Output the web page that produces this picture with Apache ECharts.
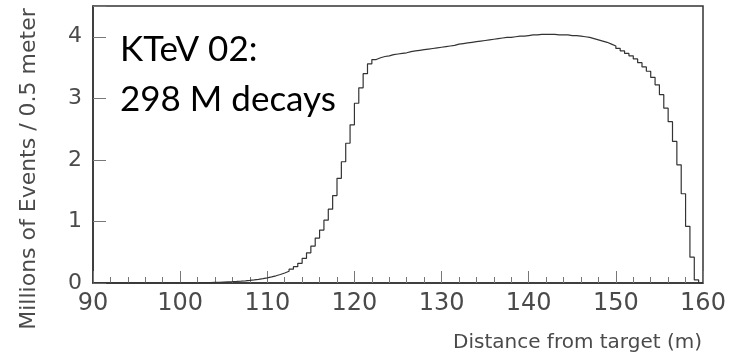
<!DOCTYPE html>
<html>
<head>
<meta charset="utf-8">
<script src="https://cdn.jsdelivr.net/npm/echarts@6/dist/echarts.min.js"></script>
<style>
  html, body { margin: 0; padding: 0; background: #fff; }
  #chart { width: 744px; height: 357px; }
</style>
</head>
<body>
<div id="chart"></div>
<script>
// Decay-vertex distribution, 0.5 m bins from 90 m to 160 m
const binStart = 90;
const binWidth = 0.5;
const xTicks = [90, 100, 110, 120, 130, 140, 150, 160];
const yTicks = [0, 1, 2, 3, 4];

// Millions of events per 0.5 m bin
const eventsPerBin = [
  0, 0, 0, 0, 0, 0, 0, 0, 0, 0, 0, 0,                 // 90.0 - 95.5
  0, 0, 0, 0, 0, 0, 0, 0, 0, 0, 0, 0,                 // 96.0 - 101.5
  0.004, 0.006, 0.008, 0.010, 0.012, 0.015, 0.018, 0.021, // 102.0 - 105.5
  0.025, 0.030, 0.036, 0.043, 0.051, 0.060, 0.071, 0.084, // 106.0 - 109.5
  0.099, 0.117, 0.138, 0.162, 0.19, 0.225, 0.265, 0.32,   // 110.0 - 113.5
  0.40, 0.49, 0.60, 0.73, 0.86, 1.02, 1.20, 1.42,         // 114.0 - 117.5
  1.70, 1.97, 2.27, 2.57, 2.92, 3.17, 3.40, 3.56,         // 118.0 - 121.5
  3.63, 3.66, 3.68, 3.69, 3.71, 3.72, 3.73, 3.74,         // 122.0 - 125.5
  3.76, 3.77, 3.78, 3.79, 3.80, 3.81, 3.82, 3.83,         // 126.0 - 129.5
  3.84, 3.85, 3.86, 3.88, 3.89, 3.90, 3.91, 3.92,         // 130.0 - 133.5
  3.93, 3.94, 3.95, 3.96, 3.97, 3.98, 3.99, 3.99,         // 134.0 - 137.5
  4.00, 4.01, 4.01, 4.02, 4.03, 4.03, 4.04, 4.04,         // 138.0 - 141.5
  4.04, 4.04, 4.03, 4.03, 4.03, 4.02, 4.02, 4.01,         // 142.0 - 145.5
  4.00, 3.99, 3.97, 3.95, 3.93, 3.91, 3.88, 3.85,         // 146.0 - 149.5
  3.81, 3.77, 3.73, 3.69, 3.64, 3.58, 3.51, 3.44,         // 150.0 - 153.5
  3.34, 3.22, 3.06, 2.84, 2.62, 2.30, 1.92, 1.45,         // 154.0 - 157.5
  0.92, 0.42, 0.05, 0                                     // 158.0 - 159.5
];

const annotation = ['KTeV 02:', '298 M decays'];
const xTitle = 'Distance from target (m)';
const yTitle = 'Millions of Events / 0.5 meter';

// Histogram outline: each bin drawn from its lower edge, closed at the upper edge
const stepData = eventsPerBin.map((v, i) => [binStart + i * binWidth, v]);
stepData.push([binStart + eventsPerBin.length * binWidth, eventsPerBin[eventsPerBin.length - 1]]);

const chart = echarts.init(document.getElementById('chart'), null, { renderer: 'canvas' });

const axisFont = 'DejaVu Sans';
const labelColor = '#4a4a4a';

chart.setOption({
  animation: false,
  backgroundColor: '#fff',
  grid: {
    left: 93, right: 41, top: 6, bottom: 74,
    show: true, borderColor: '#333', borderWidth: 1.5
  },
  xAxis: {
    type: 'value',
    min: xTicks[0], max: xTicks[xTicks.length - 1], interval: 10,
    axisLine: { show: true, onZero: false, lineStyle: { color: '#333', width: 1.5 } },
    axisTick: { show: true, inside: true, length: 12, lineStyle: { color: '#777', width: 1 } },
    minorTick: { show: true, splitNumber: 5, length: 6, lineStyle: { color: '#777', width: 1 } },
    axisLabel: { show: true, margin: 9, fontFamily: axisFont, fontSize: 24, color: labelColor },
    splitLine: { show: false }
  },
  yAxis: {
    type: 'value',
    min: 0, max: 4.5, interval: 1,
    axisLine: { show: true, onZero: false, lineStyle: { color: '#333', width: 1.5 } },
    axisTick: { show: true, inside: true, length: 13, lineStyle: { color: '#777', width: 1 } },
    axisLabel: {
      show: true, margin: 11, fontFamily: axisFont, fontSize: 22, color: labelColor,
      formatter: v => (yTicks.indexOf(v) >= 0 ? String(v) : '')
    },
    splitLine: { show: false }
  },
  series: [{
    type: 'line',
    step: 'end',
    data: stepData,
    showSymbol: false,
    symbol: 'none',
    lineStyle: { color: '#333', width: 1.2 },
    z: 3
  }],
  graphic: [
    {
      type: 'text', x: 120, y: 50,
      style: { text: annotation[0], fontFamily: 'Lato', fontSize: 35, fill: '#000', align: 'left', verticalAlign: 'middle' }
    },
    {
      type: 'text', x: 120, y: 100,
      style: { text: annotation[1], fontFamily: 'Lato', fontSize: 35, fill: '#000', align: 'left', verticalAlign: 'middle' }
    },
    {
      type: 'text', x: 702, y: 343,
      style: { text: xTitle, fontFamily: axisFont, fontSize: 20, fill: labelColor, align: 'right', verticalAlign: 'middle' }
    },
    {
      type: 'text', x: 29, y: 169, rotation: Math.PI / 2,
      style: { text: yTitle, fontFamily: axisFont, fontSize: 22, fill: labelColor, align: 'center', verticalAlign: 'middle' }
    }
  ]
});
</script>
</body>
</html>
